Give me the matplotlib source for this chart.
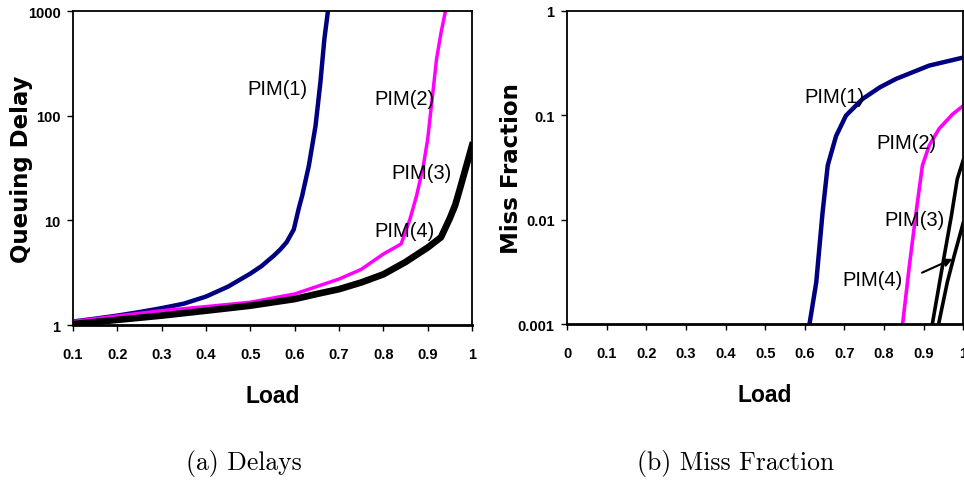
import matplotlib
matplotlib.use("Agg")
import matplotlib.pyplot as plt

# queuing delay vs load, log scale
load_pim1 = [0.1, 0.15, 0.2, 0.25, 0.3, 0.35, 0.4, 0.45, 0.5, 0.525, 0.553, 0.568,
             0.582, 0.598, 0.609, 0.617, 0.632, 0.647, 0.658, 0.667, 0.675]
delay_pim1 = [1.08, 1.15, 1.23, 1.33, 1.45, 1.6, 1.87, 2.33, 3.1, 3.65, 4.6, 5.3,
              6.2, 8.2, 12.9, 17.3, 33.4, 80, 209, 543, 1000]

load_pim2 = [0.1, 0.2, 0.3, 0.4, 0.5, 0.6, 0.7, 0.75, 0.8, 0.84, 0.86, 0.875, 0.89,
             0.9, 0.91, 0.92, 0.93, 0.94]
delay_pim2 = [1.08, 1.22, 1.37, 1.5, 1.65, 1.98, 2.75, 3.4, 4.77, 5.95, 10.3, 17.3, 33,
              60, 145, 350, 620, 1000]

load_pim34 = [0.1, 0.2, 0.3, 0.4, 0.5, 0.6, 0.65, 0.7, 0.75, 0.8, 0.85, 0.9, 0.93,
              0.95, 0.962, 0.974, 0.987, 1.0]
delay_pim34 = [1.02, 1.12, 1.23, 1.37, 1.53, 1.77, 1.98, 2.2, 2.55, 3.05, 4.0, 5.5,
               6.9, 10.5, 14, 21, 33, 52]

# miss fraction vs load
mload_pim1 = [0.612, 0.629, 0.645, 0.658, 0.679, 0.704, 0.746, 0.79, 0.83, 0.914, 1.0]
miss_pim1 = [0.001, 0.0025, 0.0117, 0.033, 0.063, 0.099, 0.143, 0.185, 0.222, 0.298, 0.356]

mload_pim2 = [0.847, 0.864, 0.881, 0.897, 0.914, 0.939, 0.973, 1.0]
miss_pim2 = [0.001, 0.0036, 0.0117, 0.033, 0.051, 0.074, 0.102, 0.123]

mload_pim3 = [0.922, 0.952, 0.970, 0.985, 1.0]
miss_pim3 = [0.001, 0.00448, 0.0108, 0.0245, 0.037]

mload_pim4 = [0.939, 0.960, 0.977, 1.0]
miss_pim4 = [0.00105, 0.00253, 0.00448, 0.0093]

delay_ticks = [0.1, 0.2, 0.3, 0.4, 0.5, 0.6, 0.7, 0.8, 0.9, 1.0]
delay_tick_labels = ["0.1", "0.2", "0.3", "0.4", "0.5", "0.6", "0.7", "0.8", "0.9", "1"]
miss_ticks = [0, 0.1, 0.2, 0.3, 0.4, 0.5, 0.6, 0.7, 0.8, 0.9, 1.0]
miss_tick_labels = ["0", "0.1", "0.2", "0.3", "0.4", "0.5", "0.6", "0.7", "0.8", "0.9", "1"]

SANS = ["Liberation Sans", "DejaVu Sans"]
NAVY = "#000080"
MAGENTA = "#ff00ff"


def style_axes(ax, xticks, xlabels, yticks, ylabels, ylabel):
    ax.set_yscale("log")
    ax.set_xticks(xticks)
    ax.set_xticklabels(xlabels, family=SANS, fontweight="bold", fontsize=10.5)
    ax.set_yticks(yticks)
    ax.set_yticklabels(ylabels, family=SANS, fontweight="bold", fontsize=10.5)
    ax.minorticks_off()
    ax.tick_params(direction="out", length=4, width=1)
    ax.tick_params(axis="x", pad=12)
    ax.tick_params(axis="y", pad=5)
    for s in ax.spines.values():
        s.set_linewidth(1.3)
    ax.spines["bottom"].set_linewidth(2)
    ax.set_xlabel("Load", family=SANS, fontweight="bold", fontsize=16.5, va="center")
    ax.xaxis.set_label_coords(0.5, -0.225)
    ax.set_ylabel(ylabel, family="DejaVu Sans", fontweight="bold", fontsize=16.5, va="center")


fig = plt.figure(figsize=(9.64, 4.81), dpi=100)

ax1 = fig.add_axes([0.0757, 0.3222, 0.414, 0.6528])
ax1.plot(load_pim1, delay_pim1, color=NAVY, lw=3.2)
ax1.plot(load_pim2, delay_pim2, color=MAGENTA, lw=2.5)
ax1.plot(load_pim34, delay_pim34, color="black", lw=4.8)
ax1.set_xlim(0.1, 1.0)
ax1.set_ylim(1, 1000)
style_axes(ax1, delay_ticks, delay_tick_labels, [1, 10, 100, 1000],
           ["1", "10", "100", "1000"], "Queuing Delay")
ax1.yaxis.set_label_coords(-0.128, 0.5)
lbl = dict(family=SANS, fontsize=14.5, ha="center", va="center")
ax1.text(0.562, 180, "PIM(1)", **lbl)
ax1.text(0.847, 147, "PIM(2)", **lbl)
ax1.text(0.887, 28.8, "PIM(3)", **lbl)
ax1.text(0.848, 7.97, "PIM(4)", **lbl)

ax2 = fig.add_axes([0.5882, 0.3243, 0.411, 0.6514])
ax2.plot(mload_pim1, miss_pim1, color=NAVY, lw=3.2)
ax2.plot(mload_pim2, miss_pim2, color=MAGENTA, lw=2.6)
ax2.plot(mload_pim3, miss_pim3, color="black", lw=2.6)
ax2.plot(mload_pim4, miss_pim4, color="black", lw=2.6)
ax2.set_xlim(0, 1.0)
ax2.set_ylim(0.001, 1)
style_axes(ax2, miss_ticks, miss_tick_labels, [0.001, 0.01, 0.1, 1],
           ["0.001", "0.01", "0.1", "1"], "Miss Fraction")
ax2.yaxis.set_label_coords(-0.139, 0.5)
ax2.text(0.675, 0.152, "PIM(1)", **lbl)
ax2.text(0.856, 0.0552, "PIM(2)", **lbl)
ax2.text(0.876, 0.0101, "PIM(3)", **lbl)
ax2.text(0.77, 0.00269, "PIM(4)", **lbl)
ax2.annotate("", xy=(0.973, 0.0042), xytext=(0.896, 0.0031),
             arrowprops=dict(arrowstyle="-|>", color="black", lw=1.5,
                             mutation_scale=12, shrinkA=0, shrinkB=0))

fig.text(0.253, 0.0374, "(a) Delays", family="cmr10", fontsize=18.5, ha="center", va="center")
fig.text(0.7635, 0.0374, "(b) Miss Fraction", family="cmr10", fontsize=18.5, ha="center", va="center")

fig.savefig("out.png", dpi=100)
